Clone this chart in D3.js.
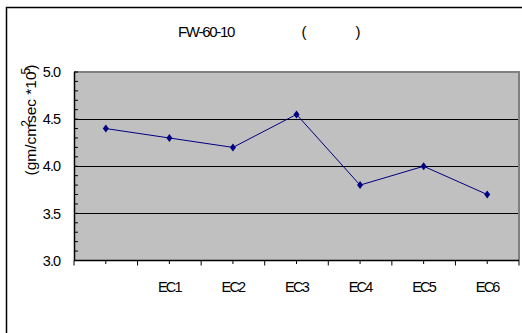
<!DOCTYPE html>
<html><head><meta charset="utf-8">
<script src="https://cdn.jsdelivr.net/npm/d3@7"></script>
<style>body{margin:0;background:#fff}svg{display:block}text{font-family:"Liberation Sans",Arial,sans-serif}</style>
</head><body>
<svg id="c" width="522" height="333"></svg>
<script>
const categories = ["", "EC1", "EC2", "EC3", "EC4", "EC5", "EC6"];
const values = [4.4, 4.3, 4.2, 4.55, 3.8, 4.0, 3.7];
const yTicks = [3.0, 3.5, 4.0, 4.5, 5.0];

const svg = d3.select("#c");
const L = 74, R = 519, T = 72, B = 260.5;

// outer chart border (left & top visible)
svg.append("rect").attr("x",6.5).attr("y",7.5).attr("width",540).attr("height",340)
  .attr("fill","#fff").attr("stroke","#000").attr("stroke-width",1.5);

const x = d3.scaleBand().domain(categories).range([L,R]).padding(0);
const y = d3.scaleLinear().domain([3,5]).range([B,T]);

svg.append("rect").attr("x",L).attr("y",T).attr("width",R-L).attr("height",B-T).attr("fill","#c0c0c0");

// gridlines
svg.selectAll(".grid").data(yTicks.filter(v=>v>3&&v<5)).join("line")
  .attr("x1",L).attr("x2",R).attr("y1",d=>Math.round(y(d))+0.5).attr("y2",d=>Math.round(y(d))+0.5)
  .attr("stroke","#000").attr("stroke-width",1);

// plot border top/right gray
svg.append("path").attr("d",`M${L},${T}H${R}V${B}`).attr("fill","none").attr("stroke","#808080").attr("stroke-width",2);

// y axis
const yMinor = d3.range(3,5.0001,0.1);
svg.selectAll(".ymin").data(yMinor).join("line")
  .attr("x1",L).attr("x2",L+4).attr("y1",d=>y(d)).attr("y2",d=>y(d)).attr("stroke","#000");
svg.append("line").attr("x1",L+0.5).attr("x2",L+0.5).attr("y1",T).attr("y2",B).attr("stroke","#000").attr("stroke-width",1.5);
svg.selectAll(".ylab").data(yTicks).join("text")
  .attr("x",60).attr("y",d=>y(d)).attr("dy","0.36em").attr("text-anchor","end")
  .attr("font-size",14.5).attr("letter-spacing",-1).text(d=>d.toFixed(1));

// x axis
svg.append("line").attr("x1",L).attr("x2",R).attr("y1",B).attr("y2",B).attr("stroke","#000").attr("stroke-width",1.5);
const bounds = categories.map(c=>x(c)).concat([R]);
svg.selectAll(".xmaj").data(bounds).join("line")
  .attr("x1",d=>d).attr("x2",d=>d).attr("y1",B).attr("y2",B+5).attr("stroke","#000");
svg.selectAll(".xmin").data(categories).join("line")
  .attr("x1",d=>x(d)+x.bandwidth()/2).attr("x2",d=>x(d)+x.bandwidth()/2).attr("y1",B).attr("y2",B+3.5).attr("stroke","#000");
svg.selectAll(".xlab").data(categories).join("text")
  .attr("x",d=>x(d)+x.bandwidth()/2).attr("y",287).attr("dy","0.36em").attr("text-anchor","middle")
  .attr("font-size",14.5).attr("letter-spacing",-1.8).text(d=>d);

// line + markers
const cx = (d,i)=>x(categories[i])+x.bandwidth()/2;
svg.append("path").datum(values)
  .attr("d",d3.line().x(cx).y(d=>y(d)))
  .attr("fill","none").attr("stroke","#000080").attr("stroke-width",1);
svg.selectAll(".m").data(values).join("path")
  .attr("transform",(d,i)=>`translate(${cx(d,i)},${y(d)})`)
  .attr("d","M0,-4L3,0L0,4L-3,0Z").attr("fill","#000080");

// title
svg.append("text").attr("x",206).attr("y",32).attr("dy","0.36em").attr("text-anchor","middle")
  .attr("font-size",15).attr("letter-spacing",-1.3).text("FW-60-10");
svg.append("text").attr("x",304).attr("y",32).attr("dy","0.36em").attr("text-anchor","middle")
  .attr("font-size",15).text("(");
svg.append("text").attr("x",358).attr("y",32).attr("dy","0.36em").attr("text-anchor","middle")
  .attr("font-size",15).text(")");

// y axis title
const yt = svg.append("text").attr("transform","translate(30,120) rotate(-90)")
  .attr("text-anchor","middle").attr("dy","0.36em").attr("font-size",15.5);
yt.append("tspan").text("(gm/cm");
yt.append("tspan").attr("dy","-6").attr("font-size",12).attr("dx","-3").text("2");
yt.append("tspan").attr("dy","6").attr("dx","-3").text("sec  *10");
yt.append("tspan").attr("dy","-6").attr("font-size",12).attr("dx","-3").text("5");
yt.append("tspan").attr("dy","6").attr("dx","-2").text(")");
</script>
</body></html>
